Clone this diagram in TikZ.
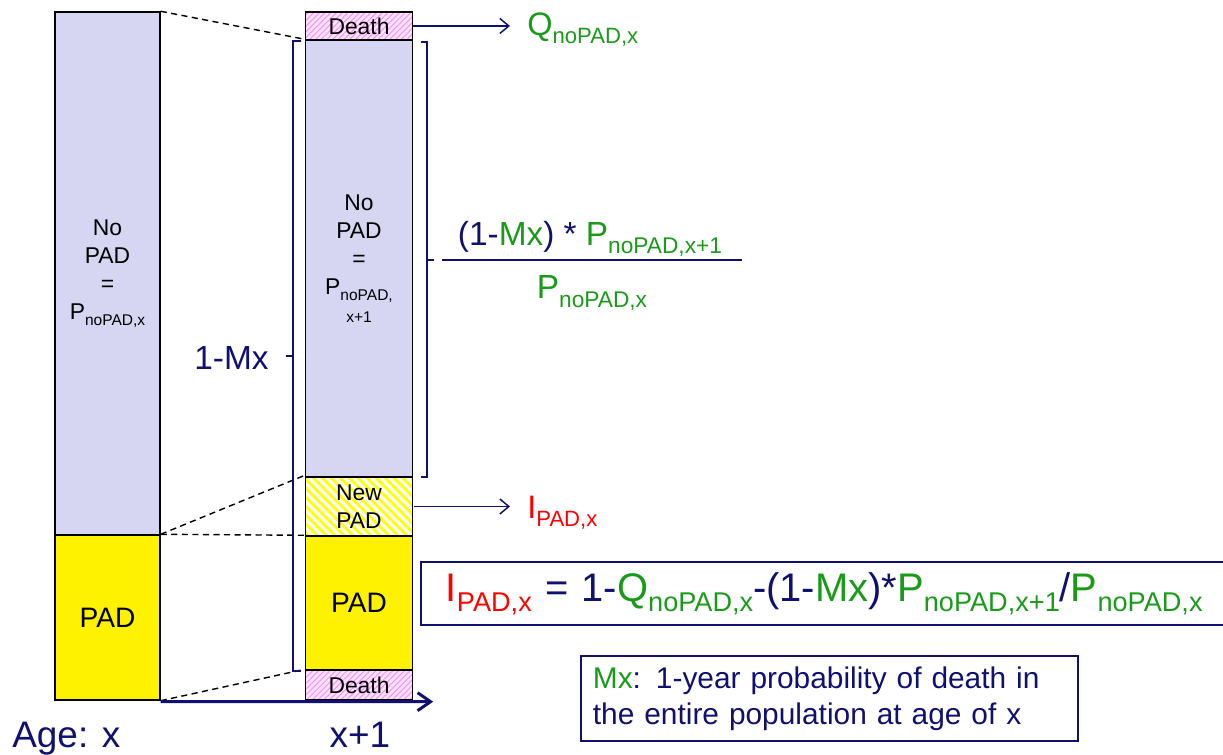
\documentclass[tikz,border=0pt]{standalone}
\usepackage{fontspec}
\setmainfont{Liberation Sans}
\usepackage{graphicx}
\usetikzlibrary{calc,arrows.meta,patterns.meta}
\definecolor{navy}{RGB}{16,16,112}
\definecolor{grn}{RGB}{25,155,25}
\definecolor{lav}{RGB}{214,214,242}
\definecolor{pinkbg}{RGB}{255,226,255}
\definecolor{pinkln}{RGB}{240,150,240}
\newcommand{\sbs}[1]{\raisebox{-0.25em}{\scalebox{0.68}{#1}}}
\newcommand{\fs}[2]{\fontsize{#1}{#2}\selectfont}
\begin{document}
\begin{tikzpicture}[scale=0.2]
\tikzstyle{every node}+=[inner sep=0pt]
\tikzstyle{barL}=[draw=black, line width=0.8pt, minimum width=2.1cm, align=center, font=\fs{13}{16}]
\tikzstyle{barR}=[draw=black, line width=0.8pt, minimum width=2.14cm, align=center, font=\fs{13}{16}]
\tikzstyle{pinkhatch}=[preaction={fill=pinkbg}, pattern={Lines[angle=45,distance=2.3pt,line width=0.6pt]}, pattern color=pinkln]
\tikzstyle{yellowhatch}=[pattern={Lines[angle=-45,distance=3.6pt,line width=1.6pt]}, pattern color=yellow]
\tikzstyle{dashlink}=[black, line width=0.8pt, dash pattern=on 3.5pt off 2.5pt]
\tikzstyle{brk}=[navy, line width=1.1pt]
\tikzstyle{arr}=[navy, line width=0.85pt, -{Straight Barb[length=1.8mm,width=3mm]}]
\tikzstyle{axisline}=[navy, line width=1.7pt, -{Straight Barb[length=2.6mm,width=3.6mm]}]
\tikzstyle{fbox}=[draw=navy, line width=1pt, align=left, text=navy]
\useasboundingbox (0,0) rectangle (122.3,-75.5);
% age x
\node [barL, fill=lav, minimum height=10.46cm] (nopadL) at (10.75,-27.35) {No\\PAD\\=\\P\sbs{noPAD,x}};
\node [barL, fill=yellow, minimum height=3.3cm, font=\fs{16}{19}] (padL) at (10.75,-61.75) {PAD};
% age x+1
\node [barR, pinkhatch, minimum height=0.56cm] (deathT) at (35.9,-2.6) {Death};
\node [barR, fill=lav, minimum height=8.74cm] (nopadR) at (35.9,-25.85) {No\\PAD\\=\\P\sbs{noPAD,}\\\scalebox{0.68}{x+1}};
\node [barR, yellowhatch, minimum height=1.18cm] (newpad) at (35.9,-50.65) {New\\PAD};
\node [barR, fill=yellow, minimum height=2.68cm, font=\fs{16}{19}] (padR) at (35.9,-60.3) {PAD};
\node [barR, pinkhatch, minimum height=0.6cm] (deathB) at (35.9,-68.5) {Death};
% dashed links
\draw [dashlink] (nopadL.north east) -- (nopadR.north west);
\draw [dashlink] (padL.north east) -- (newpad.north west);
\draw [dashlink] (padL.north east) -- (padR.north west);
\draw [dashlink] (padL.south east) -- (deathB.north west);
% axis
\coordinate (ax0) at ($(padL.south east)+(0,-0.1)$);
\coordinate (ax1) at ($(deathB.south east)+(2.0,-0.1)$);
\draw [axisline] (ax0) -- (ax1);
\draw (1.2,-74.7) node [anchor=base west, text=navy, font=\fs{21}{25}] (agex) {Age: x};
\draw (36.0,-74.7) node [anchor=base, text=navy, font=\fs{21}{25}] (agex1) {x+1};
% brackets
\draw [brk] ($(nopadR.north west)+(-0.4,-0.2)$) -- ++(-0.8,0) |- ($(deathB.north west)+(-0.4,-0.2)$);
\draw [brk] ($(nopadR.north west)!0.5!(deathB.north west)+(-1.2,-0.2)$) -- ++(-0.7,0);
\draw (23.15,-35.8) node [text=navy, font=\fs{19}{23}] (onemx) {1-Mx};
\draw [brk] ($(nopadR.north east)+(0.8,-0.3)$) -- ++(0.6,0) |- ($(nopadR.south east)+(0.8,0.1)$);
\draw [brk] ($(nopadR.east)+(1.4,-0.15)$) -- ++(0.7,0);
% fraction
\draw (59.0,-23.9) node [text=navy, font=\fs{19}{22}] (num) {(1-{\color{grn}Mx}) * {\color{grn}P\sbs{noPAD,x+1}}};
\draw (59.2,-29.3) node [text=grn, font=\fs{19}{22}] (den) {P\sbs{noPAD,x}};
\draw [navy, line width=1pt] (44.2,-26.0) -- (74.2,-26.0);
% outflows
\coordinate (qend) at (51.0,-2.6);
\draw [arr] (deathT.east) -- (qend);
\draw (52.7,-3.0) node [anchor=west, text=grn, font=\fs{18.5}{21}] (qlab) {Q\sbs{noPAD,x}};
\coordinate (iend) at (51.0,-50.65);
\draw [arr] (newpad.east) -- (iend);
\draw (52.7,-51.3) node [anchor=west, text=red, font=\fs{18.5}{21}] (ilab) {I\sbs{PAD,x}};
% formula and note
\node [fbox, anchor=north west, inner xsep=0.5cm, text width=15.4cm, minimum height=1.26cm, font=\fs{22.7}{26}] (formula) at (42.0,-56.1)
  {{\color{red}I\sbs{PAD,x}} = 1-{\color{grn}Q\sbs{noPAD,x}}-(1-{\color{grn}Mx})*{\color{grn}P\sbs{noPAD,x+1}}/{\color{grn}P\sbs{noPAD,x}}};
\node [fbox, anchor=north west, inner xsep=0.24cm, text width=9.46cm, minimum height=1.7cm, font=\fs{17}{20.5}] (mxnote) at (58.0,-65.5)
  {{\color{grn}Mx}: 1-year probability of death in\\the entire population at age of x};
\end{tikzpicture}
\end{document}
